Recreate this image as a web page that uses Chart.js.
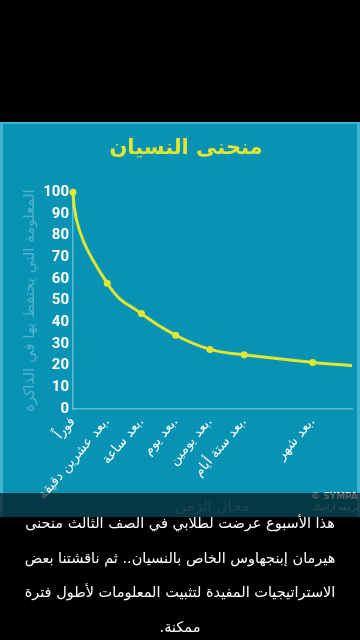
<!DOCTYPE html>
<html>
<head>
<meta charset="utf-8">
<script src="https://cdn.jsdelivr.net/npm/chart.js@4.4.1/dist/chart.umd.min.js"></script>
<style>
  html, body { margin: 0; padding: 0; background: #000; }
  body { width: 360px; height: 640px; position: relative; overflow: hidden; font-family: 'DejaVu Sans', sans-serif; }
  #panel {
    position: absolute; left: 0; top: 122px; width: 360px; height: 395px;
    background: #0893b5; box-sizing: border-box;
    border-top: 2px solid #3fb3d3; border-left: 3px solid #3fb3d3; border-right: 3px solid #3fb3d3;
  }
  #chartBox { position: absolute; left: 0; top: 122px; width: 360px; height: 395px; }
  .credit { position: absolute; color: #e8f4f8; font-family: 'DejaVu Sans', sans-serif; }
  #band { position: absolute; left: 0; top: 493px; width: 360px; height: 24px; background: rgba(0, 0, 0, 0.62); }
  #caption {
    position: absolute; left: 0; top: 506px; width: 360px;
    color: #fff; font-size: 14.5px; line-height: 34.5px; text-align: center; direction: rtl;
  }
</style>
</head>
<body>
<div id="panel"></div>
<div id="chartBox"><canvas id="grafico"></canvas></div>
<div class="credit" style="left:311px; top:491px; font-size:9px; font-weight:bold;">© SYMPA</div>
<div class="credit" style="left:313px; top:503px; font-size:8px; opacity:0.6; direction:rtl;">ترجمة أراجيك</div>
<div id="band"></div>
<div id="caption">هذا الأسبوع عرضت لطلابي في الصف الثالث منحنى<br>هيرمان إبنجهاوس الخاص بالنسيان.. ثم ناقشتنا بعض<br>الاستراتيجيات المفيدة لتثبيت المعلومات لأطول فترة<br>ممكنة.</div>

<script>
// نقاط المنحنى (موضع الزمن على المحور + النسبة المتبقية)
const tempos = [0, 1, 2, 3, 4, 5, 7, 8.15];
const retencao = [100, 58, 44, 34, 27.5, 25, 21.5, 20];

// تسميات المحور الأفقي
const posRotulos = [0, 1, 2, 3, 4, 5, 7];
const rotulos = ['فوراً', 'بعد عشرين دقيقة.', 'بعد ساعة.', 'بعد يوم.', 'بعد يومين.', 'بعد ستة أيام.', 'بعد شهر.'];

// تسميات المحور العمودي
const ticksY = [0, 10, 20, 30, 40, 50, 60, 70, 80, 90, 100];

const amarelo = '#e2e631';
const azulClaro = '#5bbfdb';

// يجعل بداية المنحنى شبه عمودية (شكل منحنى النسيان)
const curvaInicio = {
    id: 'curvaInicio',
    beforeDatasetDraw(chart, args) {
        const meta = args.meta;
        const line = meta.dataset;
        line.updateControlPoints(chart.chartArea, 'x');
        const [p0, p1, p2] = meta.data;
        const dx = p1.x - p0.x, dy = p1.y - p0.y;
        const s1 = Math.sqrt((dy / dx) * ((p2.y - p1.y) / (p2.x - p1.x)));
        p0.cp2x = p0.x + 0.03 * dx;
        p0.cp2y = p0.y + 0.45 * dy;
        p1.cp1x = p1.x - 0.45 * dx;
        p1.cp1y = p1.y - 0.45 * dx * s1;
        const d2 = (p2.x - p1.x) * 0.4;
        p1.cp2x = p1.x + d2;
        p1.cp2y = p1.y + d2 * s1;
        line._path = undefined;
    }
};

const ctx = document.getElementById('grafico').getContext('2d');
const grafico = new Chart(ctx, {
    type: 'line',
    plugins: [curvaInicio],
    data: {
        datasets: [{
            data: tempos.map((t, i) => ({ x: t, y: retencao[i] })),
            borderColor: amarelo,
            borderWidth: 3,
            backgroundColor: amarelo,
            pointRadius: retencao.map((v, i) => i < posRotulos.length ? 3.5 : 0),
            pointHoverRadius: 0,
            pointBorderWidth: 0,
            tension: 0.4,
            clip: false
        }]
    },
    options: {
        responsive: true,
        maintainAspectRatio: false,
        animation: false,
        layout: { padding: { left: 20, right: 8, top: 0, bottom: 0 } },
        plugins: {
            legend: { display: false },
            tooltip: { enabled: false },
            title: {
                display: true,
                text: 'منحنى النسيان',
                color: amarelo,
                font: { family: 'DejaVu Sans', size: 21, weight: 'bold' },
                padding: { top: 14, bottom: 31 }
            }
        },
        scales: {
            x: {
                type: 'linear',
                min: 0,
                max: tempos[tempos.length - 1],
                grid: { display: false, drawTicks: false },
                border: { display: true, color: azulClaro, width: 1.5 },
                afterBuildTicks: (axis) => { axis.ticks = posRotulos.map(v => ({ value: v })); },
                afterFit: (axis) => { axis.height = 108; },
                ticks: {
                    autoSkip: false,
                    minRotation: 50,
                    maxRotation: 50,
                    padding: 5,
                    color: '#ffffff',
                    font: { family: 'DejaVu Sans', size: 13.5 },
                    callback: (v) => rotulos[posRotulos.indexOf(v)]
                },
                title: {
                    display: true,
                    text: 'مجال الزمن',
                    color: '#4fb3cf',
                    font: { family: 'DejaVu Sans', size: 15 },
                    padding: { top: 0, bottom: 1 }
                }
            },
            y: {
                min: 0,
                max: 100,
                grid: { display: false, drawTicks: false },
                border: { display: true, color: azulClaro, width: 1.5 },
                afterBuildTicks: (axis) => { axis.ticks = ticksY.map(v => ({ value: v })); },
                afterFit: (axis) => { axis.width = 53; },
                ticks: {
                    padding: 4,
                    color: '#ffffff',
                    font: { family: "'Liberation Sans Narrow', 'Roboto', sans-serif", size: 15, weight: 'bold' }
                },
                title: {
                    display: true,
                    text: 'المعلومة التي يحتفظ بها في الذاكرة',
                    color: '#4fb3cf',
                    font: { family: 'DejaVu Sans', size: 15 },
                    padding: { top: 1, bottom: 0 }
                }
            }
        }
    }
});
</script>
</body>
</html>
